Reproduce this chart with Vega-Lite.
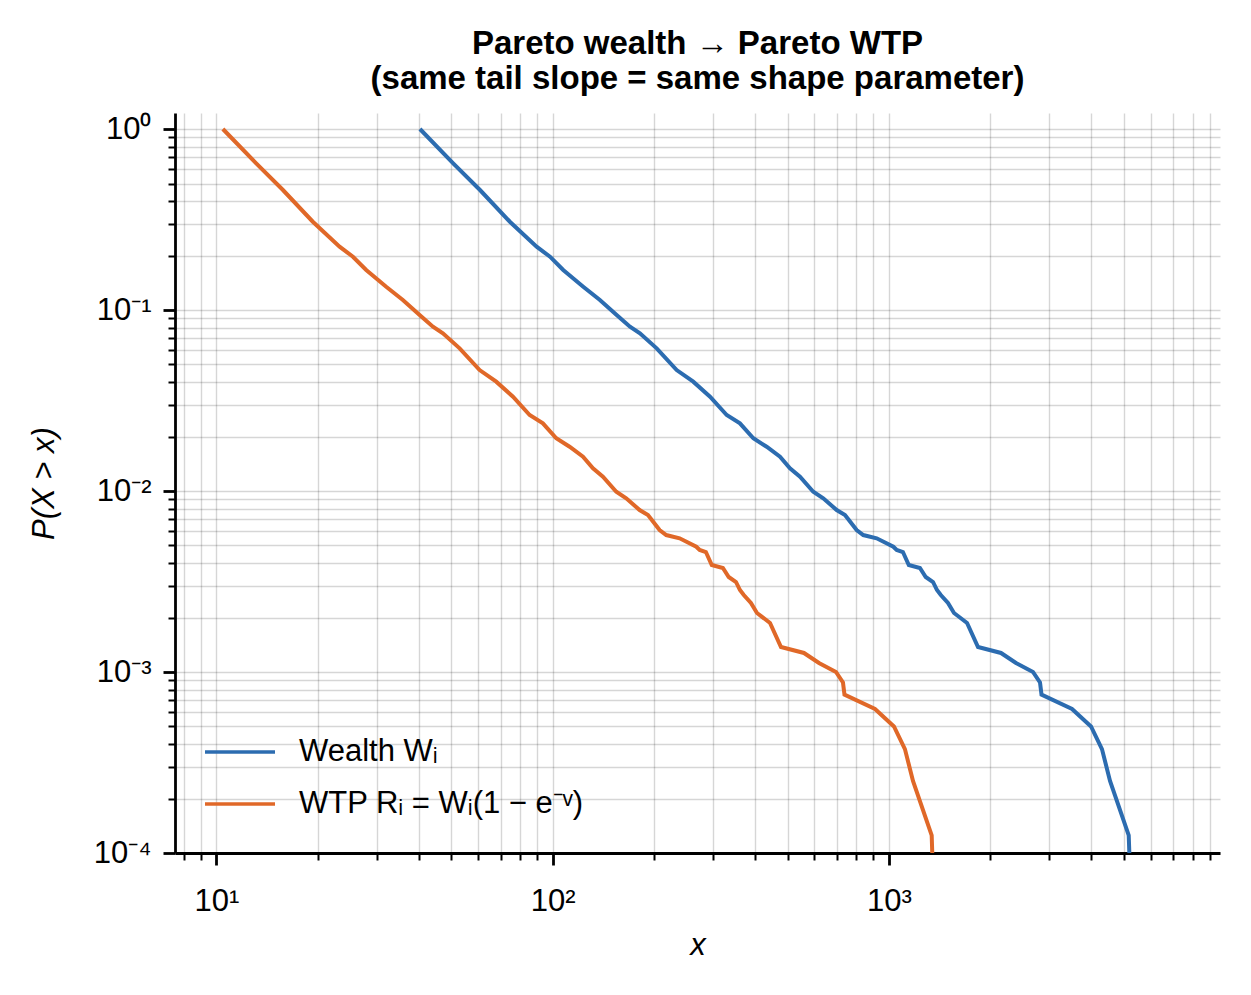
{
  "$schema": "https://vega.github.io/schema/vega-lite/v6.json",
  "description": "Empirical CCDF of Pareto wealth and WTP on log-log axes.",
  "width": 1045,
  "height": 740,
  "autosize": "none",
  "padding": {"left": 175, "top": 113, "right": 31, "bottom": 142},
  "background": "white",
  "config": {"view": {"stroke": null}, "font": "Liberation Sans"},
  "title": {
    "text": ["Pareto wealth → Pareto WTP", "(same tail slope = same shape parameter)"],
    "font": "Liberation Sans",
    "fontSize": 33,
    "fontWeight": "bold",
    "color": "black",
    "anchor": "middle",
    "lineHeight": 35,
    "offset": 17
  },
  "data": {
    "values": [
      {"s": "Wealth Wᵢ", "x": 40.3, "p": 1.0},
      {"s": "Wealth Wᵢ", "x": 50.6, "p": 0.6463},
      {"s": "Wealth Wᵢ", "x": 60.8, "p": 0.4603},
      {"s": "Wealth Wᵢ", "x": 74.6, "p": 0.3075},
      {"s": "Wealth Wᵢ", "x": 89.6, "p": 0.2237},
      {"s": "Wealth Wᵢ", "x": 98.2, "p": 0.197},
      {"s": "Wealth Wᵢ", "x": 107.5, "p": 0.1663},
      {"s": "Wealth Wᵢ", "x": 123.3, "p": 0.1345},
      {"s": "Wealth Wᵢ", "x": 138.2, "p": 0.1136},
      {"s": "Wealth Wᵢ", "x": 155.0, "p": 0.0938},
      {"s": "Wealth Wᵢ", "x": 169.8, "p": 0.0808},
      {"s": "Wealth Wᵢ", "x": 181.8, "p": 0.0743},
      {"s": "Wealth Wᵢ", "x": 203.9, "p": 0.0614},
      {"s": "Wealth Wᵢ", "x": 233.8, "p": 0.0466},
      {"s": "Wealth Wᵢ", "x": 261.9, "p": 0.0402},
      {"s": "Wealth Wᵢ", "x": 293.8, "p": 0.0332},
      {"s": "Wealth Wᵢ", "x": 329.3, "p": 0.0263},
      {"s": "Wealth Wᵢ", "x": 360.6, "p": 0.02366},
      {"s": "Wealth Wᵢ", "x": 395.2, "p": 0.01955},
      {"s": "Wealth Wᵢ", "x": 433.0, "p": 0.01757},
      {"s": "Wealth Wᵢ", "x": 474.4, "p": 0.01547},
      {"s": "Wealth Wᵢ", "x": 507.9, "p": 0.01335},
      {"s": "Wealth Wᵢ", "x": 544.0, "p": 0.012},
      {"s": "Wealth Wᵢ", "x": 595.8, "p": 0.00991},
      {"s": "Wealth Wᵢ", "x": 638.0, "p": 0.00911},
      {"s": "Wealth Wᵢ", "x": 699.4, "p": 0.00785},
      {"s": "Wealth Wᵢ", "x": 740.4, "p": 0.00737},
      {"s": "Wealth Wᵢ", "x": 802.0, "p": 0.00609},
      {"s": "Wealth Wᵢ", "x": 839.1, "p": 0.00571},
      {"s": "Wealth Wᵢ", "x": 919.8, "p": 0.00548},
      {"s": "Wealth Wᵢ", "x": 1031, "p": 0.00492},
      {"s": "Wealth Wᵢ", "x": 1055, "p": 0.00472},
      {"s": "Wealth Wᵢ", "x": 1101, "p": 0.0046},
      {"s": "Wealth Wᵢ", "x": 1146, "p": 0.0039},
      {"s": "Wealth Wᵢ", "x": 1237, "p": 0.003755},
      {"s": "Wealth Wᵢ", "x": 1287, "p": 0.003349},
      {"s": "Wealth Wᵢ", "x": 1353, "p": 0.003143},
      {"s": "Wealth Wᵢ", "x": 1390, "p": 0.002838},
      {"s": "Wealth Wᵢ", "x": 1427, "p": 0.002663},
      {"s": "Wealth Wᵢ", "x": 1499, "p": 0.002405},
      {"s": "Wealth Wᵢ", "x": 1562, "p": 0.002118},
      {"s": "Wealth Wᵢ", "x": 1708, "p": 0.001866},
      {"s": "Wealth Wᵢ", "x": 1841, "p": 0.001374},
      {"s": "Wealth Wᵢ", "x": 2155, "p": 0.001274},
      {"s": "Wealth Wᵢ", "x": 2388, "p": 0.001121},
      {"s": "Wealth Wᵢ", "x": 2683, "p": 0.001},
      {"s": "Wealth Wᵢ", "x": 2815, "p": 0.000875},
      {"s": "Wealth Wᵢ", "x": 2844, "p": 0.00075},
      {"s": "Wealth Wᵢ", "x": 3505, "p": 0.000625},
      {"s": "Wealth Wᵢ", "x": 3992, "p": 0.0005},
      {"s": "Wealth Wᵢ", "x": 4303, "p": 0.000375},
      {"s": "Wealth Wᵢ", "x": 4547, "p": 0.00025},
      {"s": "Wealth Wᵢ", "x": 5168, "p": 0.000125},
      {"s": "Wealth Wᵢ", "x": 5190, "p": 0.0001},
      {"s": "WTP Rᵢ = Wᵢ(1 − e⁻ᵛ)", "x": 10.45, "p": 1.0},
      {"s": "WTP Rᵢ = Wᵢ(1 − e⁻ᵛ)", "x": 13.13, "p": 0.6463},
      {"s": "WTP Rᵢ = Wᵢ(1 − e⁻ᵛ)", "x": 15.77, "p": 0.4603},
      {"s": "WTP Rᵢ = Wᵢ(1 − e⁻ᵛ)", "x": 19.35, "p": 0.3075},
      {"s": "WTP Rᵢ = Wᵢ(1 − e⁻ᵛ)", "x": 23.24, "p": 0.2237},
      {"s": "WTP Rᵢ = Wᵢ(1 − e⁻ᵛ)", "x": 25.47, "p": 0.197},
      {"s": "WTP Rᵢ = Wᵢ(1 − e⁻ᵛ)", "x": 27.89, "p": 0.1663},
      {"s": "WTP Rᵢ = Wᵢ(1 − e⁻ᵛ)", "x": 31.98, "p": 0.1345},
      {"s": "WTP Rᵢ = Wᵢ(1 − e⁻ᵛ)", "x": 35.85, "p": 0.1136},
      {"s": "WTP Rᵢ = Wᵢ(1 − e⁻ᵛ)", "x": 40.21, "p": 0.0938},
      {"s": "WTP Rᵢ = Wᵢ(1 − e⁻ᵛ)", "x": 44.05, "p": 0.0808},
      {"s": "WTP Rᵢ = Wᵢ(1 − e⁻ᵛ)", "x": 47.16, "p": 0.0743},
      {"s": "WTP Rᵢ = Wᵢ(1 − e⁻ᵛ)", "x": 52.89, "p": 0.0614},
      {"s": "WTP Rᵢ = Wᵢ(1 − e⁻ᵛ)", "x": 60.65, "p": 0.0466},
      {"s": "WTP Rᵢ = Wᵢ(1 − e⁻ᵛ)", "x": 67.94, "p": 0.0402},
      {"s": "WTP Rᵢ = Wᵢ(1 − e⁻ᵛ)", "x": 76.21, "p": 0.0332},
      {"s": "WTP Rᵢ = Wᵢ(1 − e⁻ᵛ)", "x": 85.42, "p": 0.0263},
      {"s": "WTP Rᵢ = Wᵢ(1 − e⁻ᵛ)", "x": 93.54, "p": 0.02366},
      {"s": "WTP Rᵢ = Wᵢ(1 − e⁻ᵛ)", "x": 102.5, "p": 0.01955},
      {"s": "WTP Rᵢ = Wᵢ(1 − e⁻ᵛ)", "x": 112.3, "p": 0.01757},
      {"s": "WTP Rᵢ = Wᵢ(1 − e⁻ᵛ)", "x": 123.1, "p": 0.01547},
      {"s": "WTP Rᵢ = Wᵢ(1 − e⁻ᵛ)", "x": 131.8, "p": 0.01335},
      {"s": "WTP Rᵢ = Wᵢ(1 − e⁻ᵛ)", "x": 141.1, "p": 0.012},
      {"s": "WTP Rᵢ = Wᵢ(1 − e⁻ᵛ)", "x": 154.6, "p": 0.00991},
      {"s": "WTP Rᵢ = Wᵢ(1 − e⁻ᵛ)", "x": 165.5, "p": 0.00911},
      {"s": "WTP Rᵢ = Wᵢ(1 − e⁻ᵛ)", "x": 181.4, "p": 0.00785},
      {"s": "WTP Rᵢ = Wᵢ(1 − e⁻ᵛ)", "x": 192.1, "p": 0.00737},
      {"s": "WTP Rᵢ = Wᵢ(1 − e⁻ᵛ)", "x": 208.0, "p": 0.00609},
      {"s": "WTP Rᵢ = Wᵢ(1 − e⁻ᵛ)", "x": 217.7, "p": 0.00571},
      {"s": "WTP Rᵢ = Wᵢ(1 − e⁻ᵛ)", "x": 238.6, "p": 0.00548},
      {"s": "WTP Rᵢ = Wᵢ(1 − e⁻ᵛ)", "x": 267.4, "p": 0.00492},
      {"s": "WTP Rᵢ = Wᵢ(1 − e⁻ᵛ)", "x": 273.7, "p": 0.00472},
      {"s": "WTP Rᵢ = Wᵢ(1 − e⁻ᵛ)", "x": 285.6, "p": 0.0046},
      {"s": "WTP Rᵢ = Wᵢ(1 − e⁻ᵛ)", "x": 297.3, "p": 0.0039},
      {"s": "WTP Rᵢ = Wᵢ(1 − e⁻ᵛ)", "x": 320.9, "p": 0.003755},
      {"s": "WTP Rᵢ = Wᵢ(1 − e⁻ᵛ)", "x": 333.9, "p": 0.003349},
      {"s": "WTP Rᵢ = Wᵢ(1 − e⁻ᵛ)", "x": 351.0, "p": 0.003143},
      {"s": "WTP Rᵢ = Wᵢ(1 − e⁻ᵛ)", "x": 360.6, "p": 0.002838},
      {"s": "WTP Rᵢ = Wᵢ(1 − e⁻ᵛ)", "x": 370.2, "p": 0.002663},
      {"s": "WTP Rᵢ = Wᵢ(1 − e⁻ᵛ)", "x": 388.8, "p": 0.002405},
      {"s": "WTP Rᵢ = Wᵢ(1 − e⁻ᵛ)", "x": 405.2, "p": 0.002118},
      {"s": "WTP Rᵢ = Wᵢ(1 − e⁻ᵛ)", "x": 443.1, "p": 0.001866},
      {"s": "WTP Rᵢ = Wᵢ(1 − e⁻ᵛ)", "x": 477.6, "p": 0.001374},
      {"s": "WTP Rᵢ = Wᵢ(1 − e⁻ᵛ)", "x": 559.0, "p": 0.001274},
      {"s": "WTP Rᵢ = Wᵢ(1 − e⁻ᵛ)", "x": 619.5, "p": 0.001121},
      {"s": "WTP Rᵢ = Wᵢ(1 − e⁻ᵛ)", "x": 696.0, "p": 0.001},
      {"s": "WTP Rᵢ = Wᵢ(1 − e⁻ᵛ)", "x": 730.2, "p": 0.000875},
      {"s": "WTP Rᵢ = Wᵢ(1 − e⁻ᵛ)", "x": 737.7, "p": 0.00075},
      {"s": "WTP Rᵢ = Wᵢ(1 − e⁻ᵛ)", "x": 909.2, "p": 0.000625},
      {"s": "WTP Rᵢ = Wᵢ(1 − e⁻ᵛ)", "x": 1035.5, "p": 0.0005},
      {"s": "WTP Rᵢ = Wᵢ(1 − e⁻ᵛ)", "x": 1116.2, "p": 0.000375},
      {"s": "WTP Rᵢ = Wᵢ(1 − e⁻ᵛ)", "x": 1179.5, "p": 0.00025},
      {"s": "WTP Rᵢ = Wᵢ(1 − e⁻ᵛ)", "x": 1340.6, "p": 0.000125},
      {"s": "WTP Rᵢ = Wᵢ(1 − e⁻ᵛ)", "x": 1346, "p": 0.0001}
    ]
  },
  "mark": {"type": "line", "strokeWidth": 4, "clip": true},
  "encoding": {
    "x": {
      "field": "x",
      "type": "quantitative",
      "scale": {"type": "log", "domain": [7.53, 9656], "nice": false, "zero": false},
      "axis": {
        "values": [8, 9, 10, 20, 30, 40, 50, 60, 70, 80, 90, 100, 200, 300, 400, 500, 600, 700, 800, 900, 1000, 2000, 3000, 4000, 5000, 6000, 7000, 8000, 9000],
        "labelExpr": "datum.value == 10 ? '10¹' : datum.value == 100 ? '10²' : datum.value == 1000 ? '10³' : ''",
        "labelFont": "Liberation Sans",
        "labelFontSize": 31,
        "labelColor": "black",
        "labelPadding": 21,
        "labelFlush": false,
        "labelOverlap": false,
        "domainColor": "black",
        "domainWidth": 2.8,
        "tickColor": "black",
        "tickSize": {"condition": {"test": "datum.value == 10 || datum.value == 100 || datum.value == 1000", "value": 12}, "value": 7},
        "tickWidth": {"condition": {"test": "datum.value == 10 || datum.value == 100 || datum.value == 1000", "value": 2.8}, "value": 2},
        "grid": true,
        "gridColor": "black",
        "gridOpacity": 0.16,
        "gridWidth": 1.4,
        "title": "x",
        "titleFont": "Liberation Sans",
        "titleFontSize": 31,
        "titleFontStyle": "italic",
        "titleFontWeight": "normal",
        "titleColor": "black",
        "titlePadding": 14
      }
    },
    "y": {
      "field": "p",
      "type": "quantitative",
      "scale": {"type": "log", "domain": [0.0001, 1.226], "nice": false, "zero": false},
      "axis": {
        "values": [0.0001, 0.0002, 0.0003, 0.0004, 0.0005, 0.0006, 0.0007, 0.0008, 0.0009, 0.001, 0.002, 0.003, 0.004, 0.005, 0.006, 0.007, 0.008, 0.009, 0.01, 0.02, 0.03, 0.04, 0.05, 0.06, 0.07, 0.08, 0.09, 0.1, 0.2, 0.3, 0.4, 0.5, 0.6, 0.7, 0.8, 0.9, 1],
        "labelExpr": "datum.value == 1 ? '10⁰' : datum.value == 0.1 ? '10⁻¹' : datum.value == 0.01 ? '10⁻²' : datum.value == 0.001 ? '10⁻³' : datum.value == 0.0001 ? '10⁻⁴' : ''",
        "labelFont": "Liberation Sans",
        "labelFontSize": 31,
        "labelColor": "black",
        "labelPadding": 12,
        "labelFlush": false,
        "labelOverlap": false,
        "domainColor": "black",
        "domainWidth": 2.8,
        "tickColor": "black",
        "tickSize": {"condition": {"test": "datum.value == 1 || datum.value == 0.1 || datum.value == 0.01 || datum.value == 0.001 || datum.value == 0.0001", "value": 12}, "value": 7},
        "tickWidth": {"condition": {"test": "datum.value == 1 || datum.value == 0.1 || datum.value == 0.01 || datum.value == 0.001 || datum.value == 0.0001", "value": 2.8}, "value": 2},
        "grid": true,
        "gridColor": "black",
        "gridOpacity": 0.16,
        "gridWidth": 1.4,
        "title": "P(X > x)",
        "titleFont": "Liberation Sans",
        "titleFontSize": 31,
        "titleFontStyle": "italic",
        "titleFontWeight": "normal",
        "titleColor": "black",
        "titlePadding": 33
      }
    },
    "color": {
      "field": "s",
      "type": "nominal",
      "sort": null,
      "scale": {"domain": ["Wealth Wᵢ", "WTP Rᵢ = Wᵢ(1 − e⁻ᵛ)"], "range": ["#2c6cb0", "#e06828"]},
      "legend": {
        "orient": "none",
        "legendX": 28,
        "legendY": 602,
        "title": null,
        "symbolType": "stroke",
        "symbolSize": 4900,
        "symbolStrokeWidth": 3.5,
        "labelFont": "Liberation Sans",
        "labelFontSize": 31,
        "labelColor": "black",
        "labelLimit": 800,
        "labelOffset": 22,
        "rowPadding": -17,
        "padding": 0
      }
    }
  }
}
